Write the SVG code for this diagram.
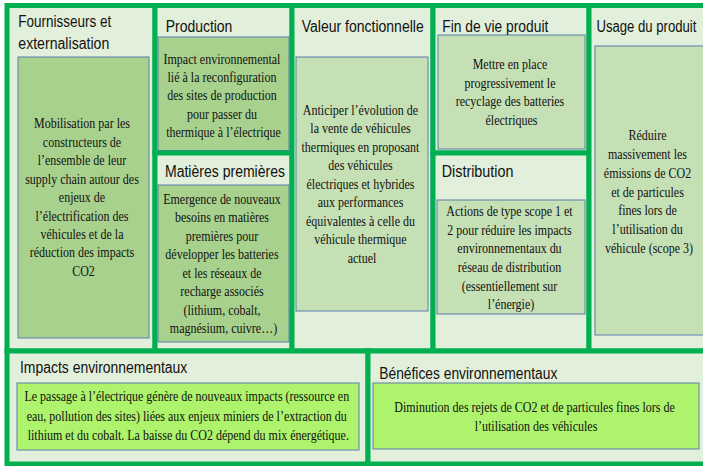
<svg xmlns="http://www.w3.org/2000/svg" width="703" height="466" viewBox="0 0 703 466">
<style>
.panel{fill:#e2efda;stroke:#00b050;stroke-width:5}
.b1{fill:#a9d18e;stroke:#5a7fa8;stroke-width:1}
.b2{fill:#c5e0b4;stroke:#5a7fa8;stroke-width:1}
.b3{fill:#adf36b;stroke:#5a7fa8;stroke-width:1}
.h{font-family:"Liberation Sans",Arial,sans-serif;font-size:16px;fill:#111}
.t{font-family:"Liberation Serif","Times New Roman",serif;font-size:15px;fill:#111;text-anchor:middle}
</style>
<rect x="0" y="0" width="703" height="466" fill="#ffffff"/>
<g id="fournisseurs">
<rect class="panel" x="7" y="5.5" width="148" height="345.5"/>
<rect class="b1" x="18" y="57" width="131" height="281"/>
<text class="h" x="18.3" y="27.3" textLength="93" lengthAdjust="spacingAndGlyphs">Fournisseurs et</text>
<text class="h" x="18.3" y="49.3" textLength="91" lengthAdjust="spacingAndGlyphs">externalisation</text>
<text class="t" transform="translate(83.5,0) scale(0.8,1)">
<tspan x="0" y="128.3">Mobilisation par les</tspan>
<tspan x="0" y="146.8">constructeurs de</tspan>
<tspan x="0" y="165.2">l’ensemble de leur</tspan>
<tspan x="0" y="183.7">supply chain autour des</tspan>
<tspan x="0" y="202.1">enjeux de</tspan>
<tspan x="0" y="220.6">l’électrification des</tspan>
<tspan x="0" y="239">véhicules et de la</tspan>
<tspan x="0" y="257.5">réduction des impacts</tspan>
<tspan x="0" y="276">CO2</tspan>
</text>
</g>
<g id="production">
<rect class="panel" x="155" y="5.5" width="137" height="147.5"/>
<rect class="b1" x="158" y="37" width="131" height="113.5"/>
<text class="h" x="165.7" y="31.7" textLength="66.7" lengthAdjust="spacingAndGlyphs">Production</text>
<text class="t" transform="translate(223.5,0) scale(0.8,1)">
<tspan x="0" y="64">Impact environnemental</tspan>
<tspan x="0" y="82.2">lié à la reconfiguration</tspan>
<tspan x="0" y="100.4">des sites de production</tspan>
<tspan x="0" y="118.6">pour passer du</tspan>
<tspan x="0" y="136.8">thermique à l’électrique</tspan>
</text>
</g>
<g id="matieres">
<rect class="panel" x="155" y="153" width="137" height="198"/>
<rect class="b1" x="158" y="185" width="131" height="157"/>
<text class="h" x="165" y="176.7" textLength="120" lengthAdjust="spacingAndGlyphs">Matières premières</text>
<text class="t" transform="translate(223.5,0) scale(0.8,1)">
<tspan x="0" y="204">Emergence de nouveaux</tspan>
<tspan x="0" y="222.5">besoins en matières</tspan>
<tspan x="0" y="241">premières pour</tspan>
<tspan x="0" y="259.5">développer les batteries</tspan>
<tspan x="0" y="278">et les réseaux de</tspan>
<tspan x="0" y="296.5">recharge associés</tspan>
<tspan x="0" y="315">(lithium, cobalt,</tspan>
<tspan x="0" y="333.5">magnésium, cuivre…)</tspan>
</text>
</g>
<g id="valeur">
<rect class="panel" x="292" y="5.5" width="141" height="345.5"/>
<rect class="b2" x="296" y="57" width="132" height="254"/>
<text class="h" x="301.7" y="32.3" textLength="122" lengthAdjust="spacingAndGlyphs">Valeur fonctionnelle</text>
<text class="t" transform="translate(362,0) scale(0.8,1)">
<tspan x="0" y="115">Anticiper l’évolution de</tspan>
<tspan x="0" y="133.5">la vente de véhicules</tspan>
<tspan x="0" y="152">thermiques en proposant</tspan>
<tspan x="0" y="170.5">des véhicules</tspan>
<tspan x="0" y="189">électriques et hybrides</tspan>
<tspan x="0" y="207.5">aux performances</tspan>
<tspan x="0" y="226">équivalentes à celle du</tspan>
<tspan x="0" y="244.5">véhicule thermique</tspan>
<tspan x="0" y="263">actuel</tspan>
</text>
</g>
<g id="findevie">
<rect class="panel" x="433" y="5.5" width="156" height="147.5"/>
<rect class="b2" x="438" y="35" width="147" height="114"/>
<text class="h" x="442.3" y="31.7" textLength="106" lengthAdjust="spacingAndGlyphs">Fin de vie produit</text>
<text class="t" transform="translate(511.5,0) scale(0.8,1)">
<tspan x="0" y="69">Mettre en place</tspan>
<tspan x="0" y="87.7">progressivement le</tspan>
<tspan x="0" y="106.3">recyclage des batteries</tspan>
<tspan x="0" y="125">électriques</tspan>
</text>
</g>
<g id="distribution">
<rect class="panel" x="433" y="153" width="156" height="198"/>
<rect class="b2" x="437" y="200" width="148" height="114"/>
<text class="h" x="441.7" y="176.7" textLength="71.7" lengthAdjust="spacingAndGlyphs">Distribution</text>
<text class="t" transform="translate(511,0) scale(0.8,1)">
<tspan x="0" y="216">Actions de type scope 1 et</tspan>
<tspan x="0" y="234.7">2 pour réduire les impacts</tspan>
<tspan x="0" y="253.4">environnementaux du</tspan>
<tspan x="0" y="272.1">réseau de distribution</tspan>
<tspan x="0" y="290.8">(essentiellement sur</tspan>
<tspan x="0" y="309.5">l’énergie)</tspan>
</text>
</g>
<g id="usage">
<rect class="panel" x="589" y="5.5" width="121" height="345.5"/>
<rect class="b2" x="595" y="46" width="112" height="289"/>
<text class="h" transform="translate(596.5,31.7) scale(0.82,1)" x="0" y="0">Usage du produit</text>
<text class="t" transform="translate(649,0) scale(0.8,1)">
<tspan x="0" y="140.5">Réduire</tspan>
<tspan x="0" y="159.2">massivement les</tspan>
<tspan x="0" y="177.9">émissions de CO2</tspan>
<tspan x="0" y="196.6">et de particules</tspan>
<tspan x="0" y="215.3">fines lors de</tspan>
<tspan x="0" y="234">l’utilisation du</tspan>
<tspan x="0" y="252.7">véhicule (scope 3)</tspan>
</text>
</g>
<g id="impacts">
<rect class="panel" x="7" y="351" width="361" height="113"/>
<rect class="b3" x="17" y="383" width="342" height="67"/>
<text class="h" x="20" y="373.3" textLength="167.3" lengthAdjust="spacingAndGlyphs">Impacts environnementaux</text>
<text class="t" transform="translate(188.3,0) scale(0.8,1)">
<tspan x="0" y="401.5">Le passage à l’électrique génère de nouveaux impacts (ressource en</tspan>
<tspan x="0" y="420.8">eau, pollution des sites) liées aux enjeux miniers de l’extraction du</tspan>
<tspan x="0" y="440">lithium et du cobalt. La baisse du CO2 dépend du mix énergétique.</tspan>
</text>
</g>
<g id="benefices">
<rect class="panel" x="368" y="351" width="342" height="113"/>
<rect class="b3" x="373" y="383" width="326" height="66"/>
<text class="h" x="379.3" y="379" textLength="178" lengthAdjust="spacingAndGlyphs">Bénéfices environnementaux</text>
<text class="t" transform="translate(536,0) scale(0.8,1)">
<tspan x="0" y="411.7">Diminution des rejets de CO2 et de particules fines lors de</tspan>
<tspan x="0" y="431">l’utilisation des véhicules</tspan>
</text>
</g>
</svg>
